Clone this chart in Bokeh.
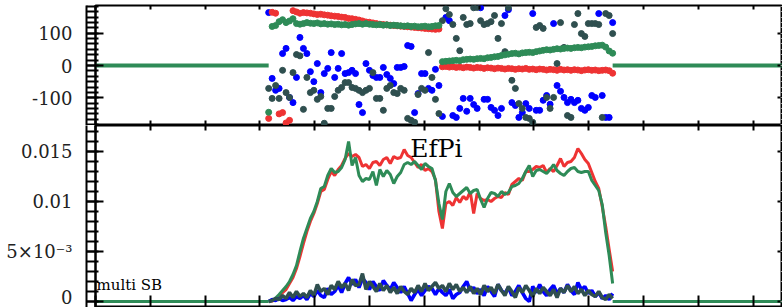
import numpy as np
from bokeh.plotting import figure
from bokeh.models import (Range1d, LinearAxis, FixedTicker, Label, ColumnDataSource,
                          CustomLabelingPolicy)
from bokeh.layouts import column
from bokeh.embed import file_html
from bokeh.resources import INLINE

# ---------------- data ----------------
x_min, x_max = 0.0, 1.2536
x_start = 0.316
bin_width = 0.00634
x_ticks = [round(0.1 * k, 1) for k in range(13)]

# amplitudes (units of 1e-3)
amp_red = [0.0, 0.05, 0.2, 0.5, 0.9, 1.2, 1.8, 2.4, 3.3, 4.5,
           5.8, 7.0, 8.0, 8.8, 9.8, 11.0, 11.2, 12.2, 13.0, 12.6,
           13.2, 13.6, 14.3, 14.8, 14.5, 14.7, 14.4, 13.5, 13.7, 13.3,
           13.9, 14.0, 13.6, 14.2, 14.4, 13.8, 14.5, 14.3, 14.4, 15.2,
           14.6, 14.4, 13.9, 13.4, 13.7, 13.1, 13.3, 13.0, 12.2, 9.0,
           7.3, 9.8, 10.0, 9.6, 10.4, 9.9, 10.5, 10.2, 11.0, 8.8,
           10.8, 10.3, 10.1, 10.2, 10.0, 10.3, 10.5, 10.4, 10.9, 10.7,
           11.7, 12.0, 12.3, 12.1, 13.0, 13.0, 13.2, 13.5, 13.4, 13.6,
           12.9, 13.3, 13.0, 13.6, 14.3, 13.5, 13.9, 14.0, 14.4, 15.3,
           14.8, 14.2, 13.8, 12.9, 12.0, 11.3, 9.5, 7.5, 5.2, 3.0]
amp_green = [0.0, 0.1, 0.35, 0.7, 1.1, 1.5, 2.0, 2.7, 3.6, 5.0,
             6.3, 7.3, 8.3, 9.0, 10.0, 11.3, 11.5, 12.6, 13.3, 12.9,
             13.0, 13.4, 14.2, 16.0, 13.6, 14.4, 12.6, 12.0, 12.3, 12.2,
             13.0, 11.6, 13.2, 12.5, 13.1, 12.7, 11.8, 12.5, 12.9, 13.7,
             13.9, 13.7, 14.0, 13.6, 13.2, 13.8, 13.5, 13.3, 12.1, 9.8,
             8.2, 11.0, 11.8, 10.9, 10.5, 10.8, 11.1, 11.4, 10.8, 11.1,
             11.2, 10.2, 9.4, 10.3, 10.9, 10.8, 10.5, 11.0, 10.7, 10.9,
             11.5, 11.6, 11.8, 12.3, 13.0, 13.6, 12.5, 13.1, 13.2, 13.0,
             12.8, 13.2, 13.7, 13.1, 12.8, 12.6, 13.0, 13.3, 13.4, 13.0,
             12.9, 13.0, 13.0, 12.1, 11.6, 11.1, 9.7, 6.9, 4.6, 1.8]
amp_blue = [0.0, 0.2, 0.1, 0.3, 0.1, 0.2, 0.4, 0.1, 0.5, 0.3,
            0.6, 0.2, 0.8, 0.5, 1.1, 0.6, 0.4, 1.3, 0.7, 1.0,
            1.6, 0.9, 1.8, 2.4, 1.7, 2.2, 1.4, 2.3, 1.9, 1.2,
            2.0, 1.5, 1.1, 2.1, 1.6, 1.2, 1.9, 1.4, 0.9, 1.5,
            0.8, 0.1, 0.7, 1.2, 0.6, 1.1, 1.5, 1.3, 0.7, 1.3,
            0.9, 0.6, 1.2, 0.3, 0.7, 0.9, 1.5, 2.0, 1.1, 1.4,
            0.8, 1.2, 0.6, 1.5, 1.0, 0.5, 1.7, 1.1, 0.8, 1.4,
            0.6, 1.0, 1.6, 0.9, 0.3, 0.0, 1.5, 0.9, 1.7, 1.0,
            0.6, 1.2, 1.6, 0.8, 1.3, 0.9, 1.7, 1.1, 0.7, 1.9,
            1.2, 1.5, 0.8, 1.1, 0.5, 0.9, 0.3, 0.6, 0.2, 0.8]
amp_dark = [0.0, 0.1, 0.3, 0.2, 0.6, 0.3, 0.9, 0.4, 1.0, 0.5,
            0.8, 0.4, 1.1, 0.6, 1.7, 1.0, 1.3, 0.7, 1.6, 1.2,
            2.0, 1.4, 1.8, 1.1, 2.2, 1.6, 1.7, 2.8, 1.2, 2.0,
            1.5, 1.0, 1.8, 1.1, 1.6, 0.9, 1.4, 0.8, 1.5, 1.0,
            0.7, 1.3, 0.9, 1.6, 1.0, 1.8, 1.1, 1.5, 1.9, 1.3,
            1.6, 1.0, 1.8, 1.2, 1.7, 1.0, 1.4, 0.9, 1.5, 0.8,
            1.3, 0.7, 1.6, 1.0, 1.4, 0.8, 1.7, 1.1, 0.6, 1.5,
            1.0, 0.4, 1.4, 0.9, 1.6, 1.1, 0.5, 1.3, 0.8, 1.4,
            1.0, 0.6, 1.2, 0.4, 1.3, 0.9, 1.6, 1.0, 1.5, 0.8,
            1.2, 0.6, 1.1, 0.7, 0.5, 1.0, 0.4, 0.2, 0.7, 0.3]

# phases (degrees)
phase_red = [-164, 165, 162, -150, -146, -178, -170, 170, 166, 162,
             164, 163, 162, 160, 158, 159, 157, 156, 154, 153,
             152, 150, 149, 146, 145, 143, 141, 138, 135, 134,
             132, 130, 128, 127, 126, 125, 124, 123, 122, 121,
             120, 119, 118, 117, 116, 115, 114, 113, 112, 113,
             -4, -3, -5, -4, -6, -5, -7, -5, -6, -8,
             -6, -7, -9, -7, -8, -10, -8, -9, -11, -9,
             -10, -12, -10, -11, -9, -12, -11, -13, -11, -12,
             -14, -12, -13, -15, -12, -14, -13, -15, -13, -14,
             -16, -14, -13, -15, -14, -16, -15, -14, -16, -24]
phase_green = [-145, 121, 124, 136, 142, 133, 138, 145, 130, 128,
               130, 133, 131, 130, 132, 129, 130, 128, 129, 127,
               128, 126, 127, 125, 127, 129, 130, 128, 130, 128,
               127, 126, 127, 125, 126, 124, 125, 124, 123, 122,
               123, 121, 122, 120, 121, 122, 120, 121, 123, 124,
               12, 13, 14, 15, 16, 15, 18, 19, 20, 19,
               21, 22, 21, 24, 25, 27, 28, 31, 33, 35,
               37, 38, 36, 39, 40, 41, 40, 43, 45, 47,
               49, 48, 50, 52, 51, 53, 54, 53, 55, 56,
               55, 57, 58, 59, 61, 62, 63, 57, 45, 38]
phase_blue = [164, -40, -77, -71, 37, 53, -99, -115, -37, 87,
              53, 37, -19, -50, 6, -84, -25, -9, 40, -37,
              -9, 37, -25, -22, -15, -25, -121, -146, 6, -15,
              -31, -37, -37, -6, -28, -40, -56, -6, -6, -3,
              62, 59, -146, -87, -25, -25, -71, -77, -12, -62,
              -158, 149, 139, -155, -161, -133, -102, -142, -102, -121,
              -133, 179, -105, -105, -130, -139, -155, -133, 155, 173,
              -115, -124, -161, -146, -118, -133, 161, -139, -139, -108,
              -93, -120, 130, -62, -80, -99, -115, -105, -115, -108,
              -133, -139, -130, -93, -99, 161, -93, -161, -161, 133]
phase_dark = [-71, -102, -62, -102, -15, -84, -99, -22, 34, 30,
              -136, -37, -84, -77, -105, -96, -179, -133, -133, -96,
              -77, -68, -53, -53, -68, -71, -77, -84, -77, -71,
              -22, -102, -102, -139, -71, -62, -84, -87, -71, -77,
              -164, -170, -176, -90, -71, -77, 40, -37, -105, -149,
              139, 176, 158, 127, 84, 46, 149, 127, 130, 179,
              180, 139, 127, 130, 136, 155, 84, 130, 43, 179,
              -46, -71, -118, -133, -161, -164, -176, 118, 124, 115,
              -99, -133, -99, 6, 133, 56, -155, -161, 127, 161,
              99, 90, 130, 130, 130, 127, -161, 161, 155, 99]

phase_major = [-100, 0, 100]
amp_major = [0.0, 0.005, 0.01, 0.015]
amp_labels = {0.0: "0", 0.005: "5\u00d710\u207b\u00b3", 0.01: "0.01", 0.015: "0.015"}

# ---------------- colours / fonts ----------------
RED = "#ee3333"
GREEN = "#2e8b57"
BLUE = "#0000ff"
DARK = "#2f4f4f"
FONT = "DejaVu Serif"

n = len(amp_red)
xs = [x_start + i * bin_width for i in range(n)]
scale = 1e-3
src = ColumnDataSource(dict(
    x=xs,
    ar=[v * scale for v in amp_red], ag=[v * scale for v in amp_green],
    ab=[v * scale for v in amp_blue], ad=[v * scale for v in amp_dark],
    pr=phase_red, pg=phase_green, pb=phase_blue, pd=phase_dark,
))
zero_left = dict(x=[x_min, xs[0]], y=[0, 0])
zero_right = dict(x=[xs[-1], x_max], y=[0, 0])

W = 782
LEFT = 95


def no_labels():
    return CustomLabelingPolicy(code="return []")


def make_fig(height, yr, top_border):
    p = figure(width=W, height=height, x_range=Range1d(x_min, x_max), y_range=yr,
               output_backend="svg", toolbar_location=None,
               x_axis_location=None, y_axis_location=None,
               min_border=0, min_border_left=LEFT, min_border_right=0,
               min_border_top=top_border, min_border_bottom=0)
    p.grid.visible = False
    p.outline_line_color = "black"
    p.outline_line_width = 2
    p.background_fill_color = "white"
    p.border_fill_color = "white"
    return p


def bare_axis(ticker, **kw):
    return LinearAxis(ticker=ticker, major_label_text_font_size="0px",
                      major_label_standoff=0, major_label_policy=no_labels(), **kw)


def add_axes(p, major, minor, overrides, top_tick=5, bottom_tick=5):
    inner = bare_axis(FixedTicker(ticks=major, minor_ticks=minor),
                      major_tick_out=9, major_tick_in=8,
                      minor_tick_out=9, minor_tick_in=3,
                      axis_line_width=2, major_tick_line_width=2, minor_tick_line_width=2)
    p.add_layout(inner, "left")
    outer = LinearAxis(ticker=FixedTicker(ticks=major),
                       major_tick_out=0, major_tick_in=0, minor_tick_out=0, minor_tick_in=0,
                       major_label_standoff=14, major_label_text_font=FONT,
                       major_label_text_font_size="18px", major_label_text_color="#222222",
                       major_label_overrides=overrides, axis_line_width=2)
    p.add_layout(outer, "left")
    right = bare_axis(FixedTicker(ticks=major, minor_ticks=minor),
                      major_tick_out=0, major_tick_in=5,
                      minor_tick_out=0, minor_tick_in=2, minor_tick_line_color="#999999",
                      axis_line_color=None, major_tick_line_width=2)
    p.add_layout(right, "right")
    for loc, tin in (("above", top_tick), ("below", bottom_tick)):
        ax = bare_axis(FixedTicker(ticks=x_ticks),
                       major_tick_out=0, major_tick_in=tin, minor_tick_out=0, minor_tick_in=0,
                       axis_line_color=None, major_tick_line_width=2)
        p.add_layout(ax, loc)


# ---------------- top: phases ----------------
top = make_fig(125, Range1d(-186, 186), 5)
phase_minor = [round(k * 100 / 6, 3) for k in range(-11, 12)]
add_axes(top, phase_major, phase_minor, {-100: "-100", 0: "0", 100: "100"}, 4, 5)
for z in (zero_left, zero_right):
    top.line(z["x"], z["y"], line_color=GREEN, line_width=4)
top.scatter("x", "pb", source=src, size=6, color=BLUE)
top.scatter("x", "pd", source=src, size=6, color=DARK)
top.scatter("x", "pr", source=src, size=6, color=RED)
top.scatter("x", "pg", source=src, size=6, color=GREEN)

# ---------------- bottom: amplitudes ----------------
bot = make_fig(182, Range1d(-0.0006, 0.0176), 0)
amp_minor = [round(0.001 * k, 3) for k in range(0, 18)]
add_axes(bot, amp_major, amp_minor, amp_labels, 5, 12)
bot.line("x", "ar", source=src, line_color=RED, line_width=3)
bot.line("x", "ag", source=src, line_color=GREEN, line_width=3)
bot.line("x", "ab", source=src, line_color=BLUE, line_width=3.5)
bot.line("x", "ad", source=src, line_color=DARK, line_width=3.5)
for z in (zero_left, zero_right):
    bot.line(z["x"], z["y"], line_color=GREEN, line_width=3)

bot.add_layout(Label(x=0.622, y=0.0139, text="EfPi", text_font=FONT,
                     text_font_size="25px", text_align="center", text_color="black"))
bot.add_layout(Label(x=x_min, y=0.0008, x_offset=1, text="multi SB", text_font=FONT,
                     text_font_size="15px", text_align="left", text_color="black"))

layout = column(top, bot, spacing=0)
open("out.html", "w").write(file_html(layout, INLINE))
